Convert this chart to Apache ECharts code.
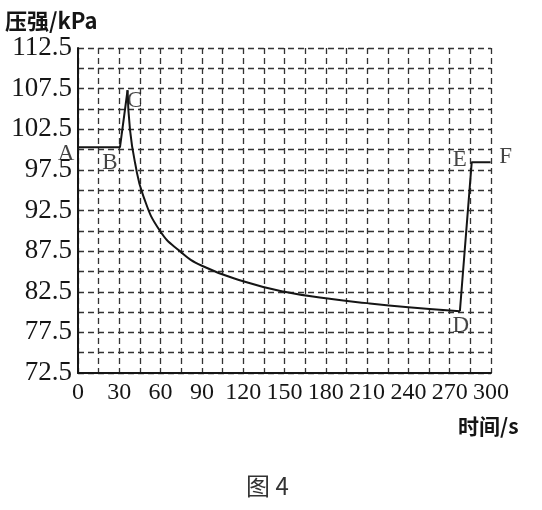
<!DOCTYPE html>
<html>
<head>
<meta charset="utf-8">
<script src="https://cdn.jsdelivr.net/npm/echarts@6/dist/echarts.min.js"></script>
<style>html,body{margin:0;padding:0;background:#fff;}#c{width:542px;height:510px;}</style>
</head>
<body>
<div id="c"></div>
<script>
// Data
const segABC = [[0, 100.3], [30.5, 100.3], [36, 107.3]];
const segCD = [[36, 107.3], [37.8, 102.4], [41.4, 98.4], [47.4, 94.3], [59.5, 90.0], [74, 87.5], [90, 85.7], [120, 83.8], [150, 82.5], [180, 81.7], [210, 81.1], [240, 80.6], [277.4, 80.1]];
const segDEF = [[277.4, 80.1], [286, 98.45], [299.7, 98.45]];
const pointNames = ['A', 'B', 'C', 'D', 'E', 'F'];
const pointValues = [[0, 100.3], [30.5, 100.3], [36, 107.3], [277.4, 80.1], [286, 98.45], [299.7, 98.45]];
const xMin = 0, xMax = 300, xStep = 15, xLabelStep = 30;
const yMin = 72.5, yMax = 112.5, yStep = 2.5, yLabelStep = 5;
const yTitle = '压强/kPa';
const xTitle = '时间/s';
const caption = '图 4';

const labelOffsets = [[-12, 7], [-10, 16], [7, 11], [1, 15], [-12, -2], [15, -5]];
const serif = '"Liberation Serif", "DejaVu Serif", serif';
const ink = '#151515';

const chart = echarts.init(document.getElementById('c'));
const lineStyle = { color: ink, width: 2 };
chart.setOption({
  animation: false,
  backgroundColor: '#fff',
  grid: { left: 78, right: 51, top: 48, bottom: 137, containLabel: false },
  xAxis: {
    type: 'value', min: xMin, max: xMax, interval: xStep,
    axisLine: { show: true, lineStyle: { color: ink, width: 2 } },
    axisTick: { show: false },
    axisLabel: {
      margin: 8, color: ink, fontFamily: serif, fontSize: 24,
      formatter: v => (Math.round(v) % xLabelStep === 0 ? String(v) : '')
    },
    splitLine: { show: true, lineStyle: { color: '#333', width: 1.3, type: [6, 4] } }
  },
  yAxis: {
    type: 'value', min: yMin, max: yMax, interval: yStep,
    axisLine: { show: true, lineStyle: { color: ink, width: 2 } },
    axisTick: { show: false },
    axisLabel: {
      margin: 6, color: ink, fontFamily: serif, fontSize: 27,
      formatter: v => (Math.abs(((v - yMin) / yLabelStep) - Math.round((v - yMin) / yLabelStep)) < 1e-6 ? v.toFixed(1) : '')
    },
    splitLine: { show: true, lineStyle: { color: '#333', width: 1.3, type: [6, 4] } }
  },
  graphic: [
    { type: 'text', left: 5, top: 10, style: { text: yTitle, fill: ink, font: 'bold 22px "Noto Sans CJK SC", sans-serif' } },
    { type: 'text', left: 458, top: 416, style: { text: xTitle, fill: ink, font: 'bold 21px "Noto Sans CJK SC", sans-serif' } },
    { type: 'text', left: 246, top: 474, style: { text: caption, fill: '#333', font: '24px "Noto Sans CJK SC", sans-serif' } }
  ],
  series: [
    { type: 'line', data: segABC, symbol: 'none', lineStyle: lineStyle, smooth: false },
    { type: 'line', data: segCD, symbol: 'none', lineStyle: lineStyle, smooth: 0.5 },
    { type: 'line', data: segDEF, symbol: 'none', lineStyle: lineStyle, smooth: false },
    {
      type: 'scatter', symbolSize: 0, silent: true,
      data: pointValues.map((v, i) => ({
        value: v,
        label: {
          show: true, formatter: pointNames[i], position: 'inside',
          offset: labelOffsets[i], color: ink, fontFamily: serif, fontSize: 23
        }
      }))
    }
  ]
});
</script>
</body>
</html>
